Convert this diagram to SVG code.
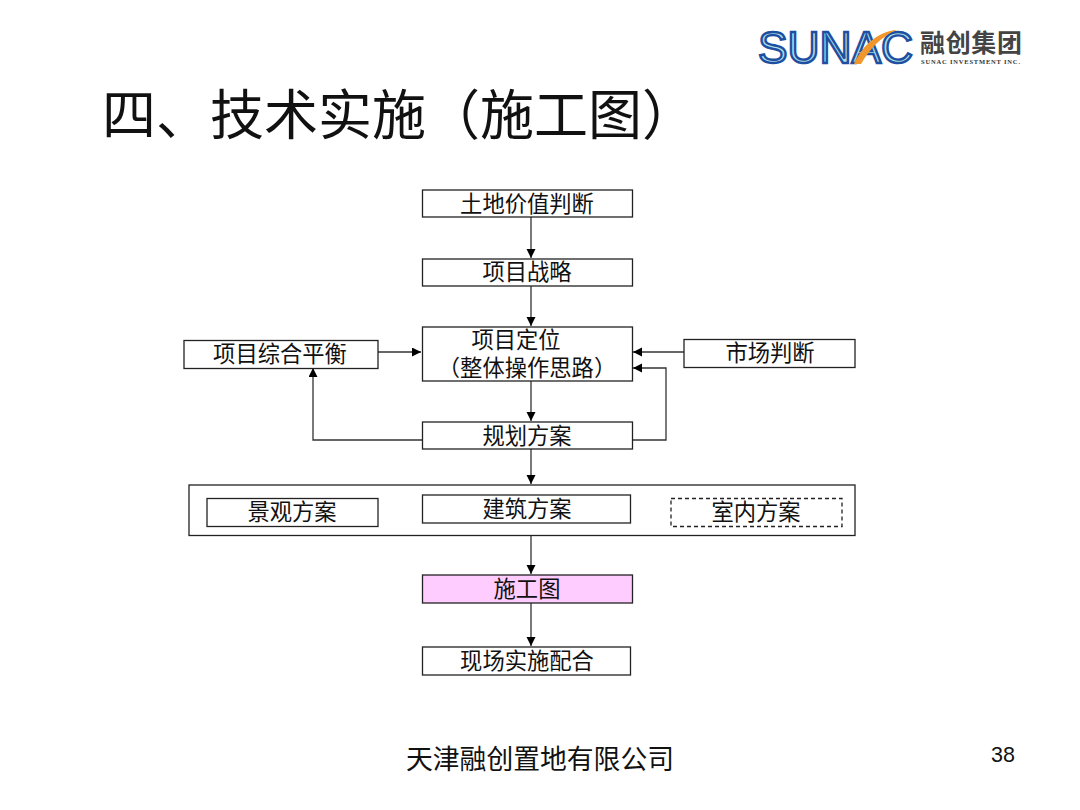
<svg xmlns="http://www.w3.org/2000/svg" width="1080" height="810" viewBox="0 0 1080 810">
<style>
text{font-family:"Liberation Sans","Noto Sans CJK SC",sans-serif;fill:#111}
.b{fill:#fff;stroke:#222;stroke-width:1.3}
.t{font-size:22.3px;text-anchor:middle}
.c{fill:none;stroke:#333;stroke-width:1.3;marker-end:url(#a)}
</style>
<defs><marker id="a" markerUnits="userSpaceOnUse" markerWidth="10" markerHeight="10" refX="9" refY="4.5" orient="auto"><path d="M0 0L9 4.5L0 9Z" fill="#000"/></marker></defs>
<rect width="1080" height="810" fill="#fff"/>
<g id="logo">
<text x="758" y="63" font-size="45" textLength="155" lengthAdjust="spacingAndGlyphs" style="fill:#a9dfe8;stroke:#1f4fa0;stroke-width:2.4">SUNAC</text>
<path d="M854 64C862 46 878 31 897 30C881 36 869 50 861 64Z" fill="#f0962a"/>
<text x="920" y="52" font-size="25" textLength="102" style="fill:#444;font-weight:bold">融创集团</text>
<text x="921" y="64" font-size="6.5" textLength="99" style="fill:#333;font-weight:bold;font-family:'Liberation Serif','Noto Sans CJK SC',serif">SUNAC INVESTMENT INC.</text>
</g>
<text id="title" x="102" y="135" font-size="54">四、技术实施（施工图）</text>
<g id="connectors">
<path class="c" d="M531 217V258"/>
<path class="c" d="M531 286V326"/>
<path class="c" d="M378 352H421"/>
<path class="c" d="M684 352H633"/>
<path class="c" d="M632 440H666V368H633"/>
<path class="c" d="M422 440H313V368"/>
<path class="c" d="M531 381V421"/>
<path class="c" d="M531 449V484"/>
<path class="c" d="M531 535V574"/>
<path class="c" d="M531 603V646"/>
</g>
<g id="n1"><rect class="b" x="422.500" y="190" width="210" height="27"/><text class="t" x="527" y="212">土地价值判断</text></g>
<g id="n2"><rect class="b" x="422.500" y="259" width="210" height="27"/><text class="t" x="527" y="280">项目战略</text></g>
<g id="n3"><rect class="b" x="422.500" y="327" width="210" height="54"/><text class="t" x="516" y="348">项目定位</text><text class="t" x="527" y="376">（整体操作思路）</text></g>
<g id="n4"><rect class="b" x="184" y="340.500" width="194" height="28"/><text class="t" x="280" y="362">项目综合平衡</text></g>
<g id="n5"><rect class="b" x="684" y="339.500" width="171" height="28"/><text class="t" x="770" y="361">市场判断</text></g>
<g id="n6"><rect class="b" x="422.500" y="422" width="210" height="27"/><text class="t" x="527" y="444">规划方案</text></g>
<g id="group"><rect class="b" x="189" y="485" width="666" height="50.500"/></g>
<g id="n7"><rect class="b" x="207" y="498.500" width="171" height="28"/><text class="t" x="292" y="520">景观方案</text></g>
<g id="n8"><rect class="b" x="422.500" y="495" width="208" height="28"/><text class="t" x="527" y="517">建筑方案</text></g>
<g id="n9"><rect class="b" x="671" y="498.500" width="171" height="28" stroke-dasharray="4 3"/><text class="t" x="756" y="520">室内方案</text></g>
<g id="n10"><rect class="b" x="422.500" y="575" width="210" height="28" style="fill:#ffccff"/><text class="t" x="527" y="597">施工图</text></g>
<g id="n11"><rect class="b" x="422.500" y="647" width="208" height="28"/><text class="t" x="527" y="669">现场实施配合</text></g>
<text id="footer" x="540" y="769" font-size="26.800" text-anchor="middle">天津融创置地有限公司</text>
<text id="page" x="991" y="762" font-size="21.500">38</text>
</svg>
